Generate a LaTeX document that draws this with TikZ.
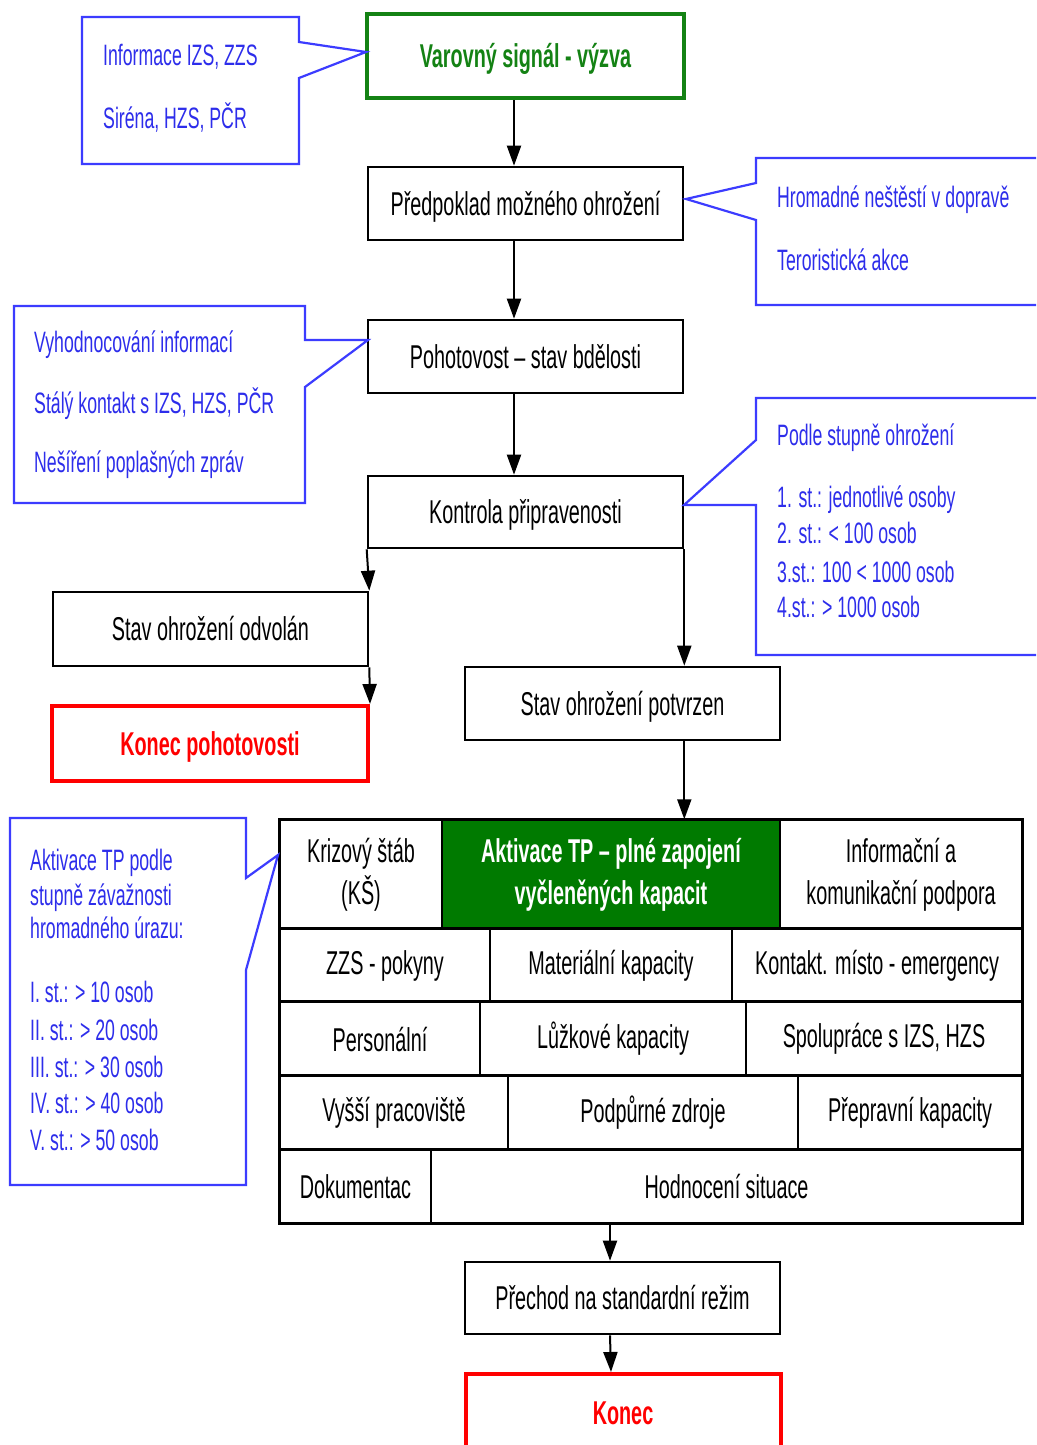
\documentclass[tikz,border=0pt]{standalone}
\usepackage{fontspec}
\setmainfont{Liberation Sans}[FakeStretch=0.6]
\usetikzlibrary{arrows.meta}
\definecolor{cblue}{RGB}{60,60,255}
\definecolor{tblue}{RGB}{45,45,235}
\definecolor{cgreen}{RGB}{20,130,20}
\definecolor{fgreen}{RGB}{0,122,0}
\definecolor{cred}{RGB}{255,0,0}
\newcommand\bigf{\fontsize{33}{42}\selectfont}
\newcommand\smf{\fontsize{29.5}{37}\selectfont}
\tikzset{
  box/.style={draw=black, line width=2.6pt, inner sep=0pt, font=\bigf, text height=23.6pt, text depth=0pt},
  greenbox/.style={box, draw=cgreen, line width=4pt, text=cgreen, font=\bigf\bfseries},
  redbox/.style={box, draw=cred, line width=4pt, text=cred, font=\bigf\bfseries},
  cell/.style={draw=black, line width=1.5pt, inner sep=0pt, font=\bigf, align=center},
  callout/.style={draw=cblue, line width=2.2pt, line join=miter},
  ctext/.style={anchor=base west, inner sep=0pt, font=\smf, text=tblue},
  arr/.style={line width=2pt, -{Triangle[length=20pt,width=14pt]}},
  thickline/.style={line width=3pt}
}
\begin{document}
\begin{tikzpicture}[x=1pt,y=-1pt]
\useasboundingbox (0,0) rectangle (1036,1445);
\clip (0,0) rectangle (1036,1445);
\fill[white] (0,0) rectangle (1036,1445);

% main flow boxes
\node[greenbox, minimum width=317, minimum height=84] (var) at (525.5,56) {Varovný signál - výzva};
\node[box, minimum width=315, minimum height=73] (pred) at (525.5,203.5) {Předpoklad možného ohrožení};
\node[box, minimum width=315, minimum height=73] (poh) at (525.5,356.5) {Pohotovost – stav bdělosti};
\node[box, minimum width=315, minimum height=72] (kon) at (525.5,512) {Kontrola připravenosti};
\node[box, minimum width=315, minimum height=74] (odv) at (210.5,629) {Stav ohrožení odvolán};
\node[redbox, minimum width=316, minimum height=75] (kp) at (210,743.5) {Konec pohotovosti};
\node[box, minimum width=315, minimum height=73] (pot) at (622.5,703.5) {Stav ohrožení potvrzen};
\node[box, minimum width=315, minimum height=72] (pre) at (622.5,1298) {Přechod na standardní režim};
\node[redbox, minimum width=315, minimum height=78] (end) at (623,1413) {Konec};

% table
\node[cell, minimum width=162, minimum height=109] (c11) at (361,874.5) {Krizový štáb\\(KŠ)};
\node[cell, fill=fgreen, text=white, font=\bigf\bfseries, minimum width=338, minimum height=109] (c12) at (611,874.5) {Aktivace TP – plné zapojení\\vyčleněných kapacit};
\node[cell, minimum width=242, minimum height=109] (c13) at (901,874.5) {Informační a\\komunikační podpora};
\node[cell, minimum width=210, minimum height=73] (c21) at (385,965.5) {ZZS - pokyny};
\node[cell, minimum width=242, minimum height=73] (c22) at (611,965.5) {Materiální kapacity};
\node[cell, minimum width=290, minimum height=73] (c23) at (877,965.5) {Kontakt. místo - emergency};
\node[cell, minimum width=200, minimum height=74] (c31) at (380,1039) {Personální};
\node[cell, minimum width=266, minimum height=74] (c32) at (613,1039) {Lůžkové kapacity};
\node[cell, minimum width=276, minimum height=74] (c33) at (884,1039) {Spolupráce s IZS, HZS};
\node[cell, minimum width=228, minimum height=74] (c41) at (394,1113) {Vyšší pracoviště};
\node[cell, minimum width=290, minimum height=74] (c42) at (653,1113) {Podpůrné zdroje};
\node[cell, minimum width=224, minimum height=74] (c43) at (910,1113) {Přepravní kapacity};
\node[cell, minimum width=151, minimum height=73] (c51) at (355.5,1186.5) {Dokumentac};
\node[cell, minimum width=591, minimum height=73] (c52) at (726.5,1186.5) {Hodnocení situace};
\draw[thickline] (c11.north west) rectangle (c52.south east);
\draw[thickline] (c21.north west) -- (c23.north east);
\draw[thickline] (c31.north west) -- (c33.north east);
\draw[thickline] (c41.north west) -- (c43.north east);
\draw[thickline] (c51.north west) -- (c52.north east);

% connectors
\draw[arr] ([xshift=-11.5pt]var.south) -- ([xshift=-11.5pt]pred.north);
\draw[arr] ([xshift=-11.5pt]pred.south) -- ([xshift=-11.5pt]poh.north);
\draw[arr] ([xshift=-11.5pt]poh.south) -- ([xshift=-11.5pt]kon.north);
\draw[arr] (kon.south west) -- (odv.north east);
\draw[arr] (odv.south east) -- (kp.north east);
\draw[arr] (kon.south east) -- (kon.south east |- pot.north);
\draw[arr] (kon.south east |- pot.south) -- (kon.south east |- c12.north);
\draw[arr] ([xshift=-12.5pt]pre.north |- c52.south) -- ([xshift=-12.5pt]pre.north);
\draw[arr] ([xshift=-12.5pt]pre.south) -- ([xshift=-12pt]end.north);

% callouts
\draw[callout] (82,17) -- (299,17) -- (299,42) -- (366,52) -- (299,78) -- (299,164) -- (82,164) -- cycle;
\node[ctext] (t11) at (103,66) {Informace IZS, ZZS};
\node[ctext] (t12) at (103,128) {Siréna, HZS, PČR};

\draw[callout] (1045,158) -- (756,158) -- (756,183) -- (686,199) -- (756,220) -- (756,305) -- (1045,305);
\node[ctext] (t21) at (777,207) {Hromadné neštěstí v dopravě};
\node[ctext] (t22) at (777,270) {Teroristická akce};

\draw[callout] (14,306) -- (305,306) -- (305,340) -- (368,340) -- (305,387) -- (305,503) -- (14,503) -- cycle;
\node[ctext] (t31) at (34,352) {Vyhodnocování informací};
\node[ctext] (t32) at (34,413) {Stálý kontakt s IZS, HZS, PČR};
\node[ctext] (t33) at (34,472) {Nešíření poplašných zpráv};

\draw[callout] (1045,398) -- (756,398) -- (756,440) -- (684,505) -- (756,505) -- (756,655) -- (1045,655);
\node[ctext] (t41) at (777,445) {Podle stupně ohrožení};
\node[ctext] (t42) at (777,507) {1. st.: jednotlivé osoby};
\node[ctext] (t43) at (777,543) {2. st.: < 100 osob};
\node[ctext] (t44) at (777,582) {3.st.: 100 < 1000 osob};
\node[ctext] (t45) at (777,617) {4.st.: > 1000 osob};

\draw[callout] (10,818) -- (246,818) -- (246,878) -- (278,855) -- (246,970) -- (246,1185) -- (10,1185) -- cycle;
\node[ctext] (t51) at (30,870) {Aktivace TP podle};
\node[ctext] (t52) at (30,905) {stupně závažnosti};
\node[ctext] (t53) at (30,938) {hromadného úrazu:};
\node[ctext] (t54) at (30,1002) {I. st.: > 10 osob};
\node[ctext] (t55) at (30,1040) {II. st.: > 20 osob};
\node[ctext] (t56) at (30,1077) {III. st.: > 30 osob};
\node[ctext] (t57) at (30,1113) {IV. st.: > 40 osob};
\node[ctext] (t58) at (30,1150) {V. st.: > 50 osob};
\end{tikzpicture}
\end{document}
